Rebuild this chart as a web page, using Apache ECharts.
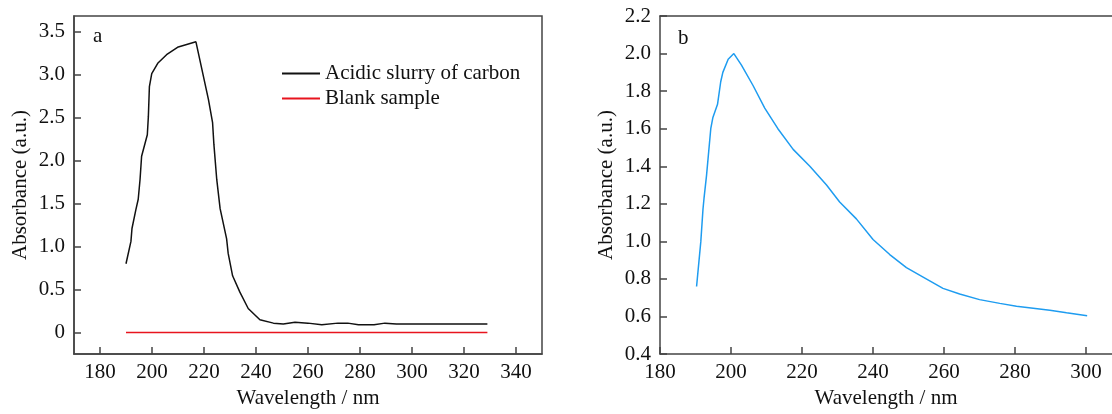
<!DOCTYPE html>
<html lang="en">
<head>
    <meta charset="UTF-8">
    <title>UV absorbance spectra</title>
    <script type="text/javascript" src="https://cdn.jsdelivr.net/npm/echarts@6/dist/echarts.min.js"></script>
    <style>
        body { margin: 0; background: #fff; }
    </style>
</head>
<body>
    <div id="main" style="width: 1112px; height: 414px"></div>
    <script>
        // panel a: acidic slurry of carbon vs blank
        var slurryWl = [190, 191.9, 192.3, 193.8, 194.7, 195.4, 196, 198.2, 198.6, 199, 199.9, 202.2, 205.6, 210.1, 216.9,
            221.7, 223.3, 223.8, 224.9, 226.2, 228.7, 229.3, 231, 233.8, 237, 241.5, 246.7, 250.5, 255, 260, 265.3,
            271.5, 275.3, 279.4, 285.4, 289.6, 294, 314.5, 329];
        var slurryAbs = [0.80, 1.06, 1.21, 1.43, 1.55, 1.78, 2.05, 2.30, 2.51, 2.86, 3.01, 3.13, 3.23, 3.32, 3.38,
            2.71, 2.44, 2.19, 1.78, 1.44, 1.09, 0.92, 0.66, 0.47, 0.28, 0.15, 0.11, 0.10, 0.12, 0.11, 0.09,
            0.11, 0.11, 0.09, 0.09, 0.11, 0.10, 0.10, 0.10];
        var blankWl = [190, 220, 260, 300, 329];
        var blankAbs = [0, 0, 0, 0, 0];

        // panel b
        var bWl = [190.3, 191.5, 192.1, 192.4, 193.1, 194.3, 194.9, 196.2, 197.1, 197.7, 199.2, 200.8, 202.9, 206.2,
            209.5, 213.2, 217.5, 222.2, 226.9, 230.6, 235.3, 240, 244.7, 249.4, 254.1, 259.7, 264.4, 270, 275.7,
            280.4, 289.8, 294.5, 300.3];
        var bAbs = [0.76, 1.00, 1.17, 1.23, 1.35, 1.60, 1.66, 1.73, 1.85, 1.90, 1.97, 2.00, 1.94, 1.83,
            1.71, 1.60, 1.49, 1.40, 1.30, 1.21, 1.12, 1.01, 0.93, 0.86, 0.81, 0.75, 0.72, 0.69, 0.67,
            0.655, 0.634, 0.62, 0.604];

        var aXTicks = [180, 200, 220, 240, 260, 280, 300, 320, 340];
        var aYTicks = [0, 0.5, 1.0, 1.5, 2.0, 2.5, 3.0, 3.5];
        var bXTicks = [180, 200, 220, 240, 260, 280, 300];

        function pairs(xs, ys) {
            return xs.map(function (x, i) { return [x, ys[i]]; });
        }

        var font = 'Liberation Serif';
        var fs = 21;
        var axisColor = '#444';

        function xAxis(idx, min, max, ticks, gap) {
            return {
                type: 'value', gridIndex: idx, min: min, max: max,
                name: 'Wavelength / nm', nameLocation: 'middle', nameGap: gap,
                nameTextStyle: {fontFamily: font, fontSize: fs, color: '#111'},
                axisLine: {onZero: false, lineStyle: {color: axisColor, width: 1.5}},
                axisTick: {inside: true, length: 7, customValues: ticks, lineStyle: {color: axisColor, width: 1.5}},
                axisLabel: {customValues: ticks, margin: 8, fontFamily: font, fontSize: fs, color: '#111'},
                splitLine: {show: false}
            };
        }

        function yAxis(idx, min, max, ticks, fmt) {
            var ax = {
                type: 'value', gridIndex: idx, min: min, max: max,
                name: 'Absorbance (a.u.)', nameLocation: 'middle', nameGap: 43,
                nameTextStyle: {fontFamily: font, fontSize: fs, color: '#111'},
                axisLine: {show: true, onZero: false, lineStyle: {color: axisColor, width: 1.5}},
                axisTick: {show: true, inside: true, length: 7, lineStyle: {color: axisColor, width: 1.5}},
                axisLabel: {margin: 9, fontFamily: font, fontSize: fs, color: '#111', formatter: fmt},
                splitLine: {show: false}
            };
            if (ticks) {
                ax.axisTick.customValues = ticks;
                ax.axisLabel.customValues = ticks;
            } else {
                ax.interval = 0.2;
            }
            return ax;
        }

        var myChart = echarts.init(document.getElementById('main'));
        myChart.setOption({
            animation: false,
            grid: [
                {left: 74, top: 16, width: 468, height: 340, show: true, borderColor: axisColor, borderWidth: 1.5},
                {left: 660, top: 16, width: 452, height: 341}
            ],
            xAxis: [
                xAxis(0, 170, 350, aXTicks, 30),
                xAxis(1, 180, 307.3, bXTicks, 30),
                // top frame line of panel b
                {
                    type: 'value', gridIndex: 1, position: 'top', min: 180, max: 307.3,
                    axisLine: {onZero: false, lineStyle: {color: axisColor, width: 1.5}},
                    axisTick: {show: false}, axisLabel: {show: false}, splitLine: {show: false}
                }
            ],
            yAxis: [
                yAxis(0, -0.25, 3.68, aYTicks, function (v) { return v === 0 ? '0' : v.toFixed(1); }),
                yAxis(1, 0.4, 2.2, null, function (v) { return v.toFixed(1); })
            ],
            legend: {
                data: ['Acidic slurry of carbon', 'Blank sample'],
                orient: 'vertical', left: 276, top: 58, itemWidth: 38, itemHeight: 14, itemGap: 4,
                itemStyle: {opacity: 0},
                textStyle: {fontFamily: font, fontSize: fs, color: '#111'}
            },
            graphic: [
                {type: 'text', left: 93, top: 26, style: {text: 'a', fontFamily: font, fontSize: fs, fill: '#111'}},
                {type: 'text', left: 678, top: 28, style: {text: 'b', fontFamily: font, fontSize: fs, fill: '#111'}}
            ],
            series: [
                {
                    name: 'Acidic slurry of carbon', type: 'line', xAxisIndex: 0, yAxisIndex: 0,
                    data: pairs(slurryWl, slurryAbs), symbol: 'none',
                    lineStyle: {color: '#111', width: 1.5}, itemStyle: {color: '#111'}
                },
                {
                    name: 'Blank sample', type: 'line', xAxisIndex: 0, yAxisIndex: 0,
                    data: pairs(blankWl, blankAbs), symbol: 'none',
                    lineStyle: {color: '#e8141e', width: 1.5}, itemStyle: {color: '#e8141e'}
                },
                {
                    name: 'b', type: 'line', xAxisIndex: 1, yAxisIndex: 1,
                    data: pairs(bWl, bAbs), symbol: 'none',
                    lineStyle: {color: '#1e9cf0', width: 1.5}, itemStyle: {color: '#1e9cf0'}
                }
            ]
        });
    </script>
</body>
</html>
